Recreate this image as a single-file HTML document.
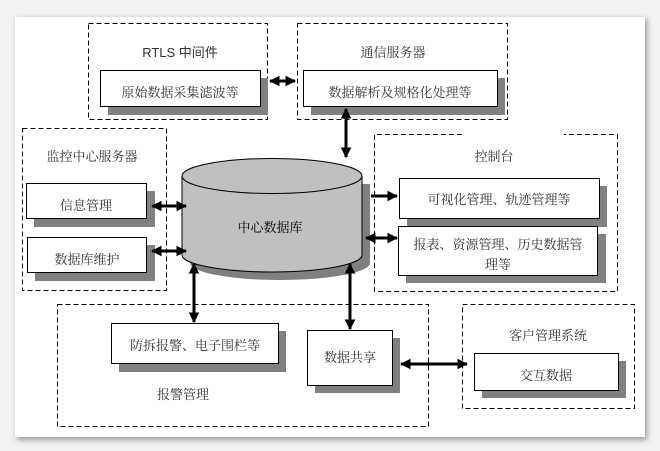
<!DOCTYPE html>
<html><head><meta charset="utf-8"><style>
html,body{margin:0;padding:0;background:#f4f4f4;}
svg{display:block;}
text{font-family:"Liberation Serif","Noto Serif CJK SC","Noto Sans CJK SC",serif;font-size:13px;fill:#333;}
</style></head><body>
<svg width="660" height="451" viewBox="0 0 660 451" xmlns="http://www.w3.org/2000/svg">
<defs>
<marker id="a" viewBox="0 0 10 10" refX="9" refY="5" markerWidth="3.6" markerHeight="3.6" orient="auto-start-reverse"><path d="M0,0 L10,5 L0,10 z" fill="#000"/></marker>
<filter id="sh" x="-5%" y="-5%" width="110%" height="110%"><feGaussianBlur stdDeviation="3"/></filter>
</defs>
<rect x="0" y="0" width="660" height="451" fill="#f2f2f2"/>
<rect x="17" y="19" width="630" height="421" fill="#999" filter="url(#sh)"/>
<rect x="15" y="17" width="630" height="420" fill="#fff"/>
<g fill="none" stroke="#000" stroke-dasharray="5,3" stroke-width="1">
<rect x="88.5" y="23.5" width="179" height="96"/>
<rect x="297.5" y="23.5" width="210" height="96"/>
<rect x="22.5" y="128.5" width="144" height="162"/>
<path d="M462,134.5 H374.5 V291.5 H617.5 V134.5 H564"/>
<rect x="57.5" y="304.5" width="371" height="122"/>
<rect x="462.5" y="304.5" width="172" height="104"/>
</g>
<g fill="#808080">
<rect x="108" y="78" width="160" height="37"/>
<rect x="311" y="78" width="194" height="37"/>
<rect x="34" y="191" width="121" height="36"/>
<rect x="35" y="245" width="120" height="36"/>
<rect x="407" y="186" width="200" height="41"/>
<rect x="406" y="234" width="200" height="49"/>
<rect x="119" y="331" width="167" height="41"/>
<rect x="315" y="338" width="85" height="55"/>
<rect x="482" y="361" width="144" height="37"/>
</g>
<g fill="#fff" stroke="#000">
<rect x="100.5" y="70.5" width="160" height="36"/>
<rect x="303.5" y="70.5" width="194" height="36"/>
<rect x="26.5" y="183.5" width="120" height="35"/>
<rect x="27.5" y="237.5" width="119" height="35"/>
<rect x="399.5" y="178.5" width="200" height="40"/>
<rect x="398.5" y="226.5" width="199" height="49"/>
<rect x="111.5" y="323.5" width="167" height="40"/>
<rect x="307.5" y="330.5" width="85" height="55"/>
<rect x="474.5" y="353.5" width="144" height="37"/>
</g>
<path d="M190,184 V263 A90,17 0 0 0 370,263 V184 Z" fill="#808080"/>
<path d="M182,176 V255 A90,17 0 0 0 362,255 V176" fill="#c0c0c0" stroke="#000"/>
<ellipse cx="272" cy="176" rx="90" ry="17.5" fill="#c0c0c0" stroke="#000"/>
<text x="270" y="232" text-anchor="middle" font-size="14" style="fill:#000">中心数据库</text>
<g stroke="#000" stroke-width="3" fill="none">
<line x1="270" y1="81" x2="295" y2="81" marker-start="url(#a)" marker-end="url(#a)"/>
<line x1="346" y1="109" x2="346" y2="157" marker-start="url(#a)" marker-end="url(#a)"/>
<line x1="152" y1="206" x2="186" y2="206" marker-start="url(#a)" marker-end="url(#a)"/>
<line x1="152" y1="251" x2="186" y2="251" marker-start="url(#a)" marker-end="url(#a)"/>
<line x1="371" y1="196" x2="397" y2="196" marker-end="url(#a)"/>
<line x1="366" y1="238" x2="397" y2="238" marker-start="url(#a)" marker-end="url(#a)"/>
<line x1="194" y1="264" x2="194" y2="322" marker-start="url(#a)" marker-end="url(#a)"/>
<line x1="350" y1="264" x2="350" y2="329" marker-start="url(#a)" marker-end="url(#a)"/>
<line x1="401" y1="364" x2="467" y2="364" marker-start="url(#a)" marker-end="url(#a)"/>
</g>
<g text-anchor="middle">
<text x="180" y="57" style="font-family:'Liberation Sans','Noto Sans CJK SC',sans-serif">RTLS 中间件</text>
<text x="180" y="97">原始数据采集滤波等</text>
<text x="393" y="57">通信服务器</text>
<text x="400" y="97">数据解析及规格化处理等</text>
<text x="92" y="161">监控中心服务器</text>
<text x="86" y="210">信息管理</text>
<text x="87" y="264">数据库维护</text>
<text x="494" y="161">控制台</text>
<text x="499" y="204">可视化管理、轨迹管理等</text>
<text x="498" y="249">报表、资源管理、历史数据管</text>
<text x="498" y="269">理等</text>
<text x="195" y="350">防拆报警、电子围栏等</text>
<text x="350" y="362">数据共享</text>
<text x="183" y="399">报警管理</text>
<text x="548" y="340">客户管理系统</text>
<text x="546" y="380">交互数据</text>
</g>
</svg>
</body></html>
